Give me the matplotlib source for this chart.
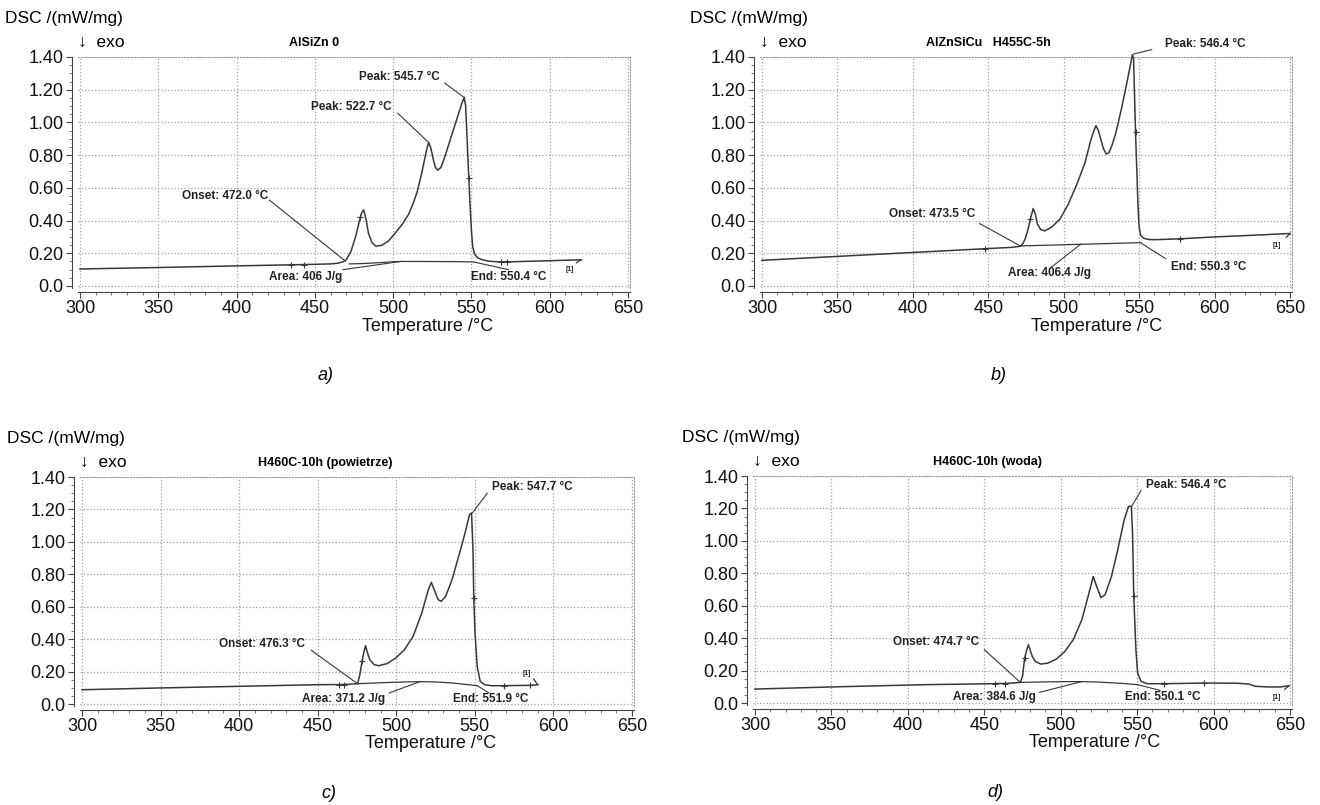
import matplotlib
matplotlib.use("Agg")
import matplotlib.pyplot as plt
from matplotlib.ticker import MultipleLocator, FixedLocator, FixedFormatter

plt.rcParams["font.family"] = ["Liberation Sans", "DejaVu Sans"]

W, H = 1320, 805
XMIN, XMAX = 298.5, 651
YMIN, YMAX = -0.01, 1.40

y_ticks = [0.0, 0.2, 0.4, 0.6, 0.8, 1.0, 1.2, 1.4]
y_labels = ["0.0", "0.20", "0.40", "0.60", "0.80", "1.00", "1.20", "1.40"]
x_ticks = [300, 350, 400, 450, 500, 550, 600, 650]

# ---- a) AlSiZn 0
T_a = [300, 350, 400, 443, 460, 465, 468, 470, 473, 476.3, 478.5, 480, 481.2, 482.8,
       484.3, 486.5, 489, 493, 497, 501, 506, 510, 513, 515.5, 518, 520, 521.7, 522.7,
       524, 525.5, 527, 528.5, 530.5, 533, 536, 539, 542, 544, 545.4, 546.3, 547, 548,
       549, 550, 550.8, 552, 554, 557, 561, 566, 575, 590, 605, 620]
dsc_a = [0.104, 0.113, 0.123, 0.131, 0.135, 0.14, 0.148, 0.16, 0.21, 0.31, 0.40, 0.45,
         0.465, 0.40, 0.32, 0.265, 0.243, 0.25, 0.275, 0.32, 0.38, 0.44, 0.51, 0.58, 0.68,
         0.77, 0.845, 0.877, 0.845, 0.78, 0.725, 0.708, 0.725, 0.79, 0.88, 0.97, 1.06,
         1.12, 1.153, 1.10, 0.95, 0.73, 0.52, 0.34, 0.24, 0.195, 0.172, 0.16, 0.152,
         0.148, 0.148, 0.152, 0.156, 0.16]
base_T_a = [472, 480, 490, 500, 505, 520, 540, 551]
base_a = [0.135, 0.137, 0.142, 0.148, 0.150, 0.150, 0.149, 0.147]
marks_T_a = [435, 443, 479, 548.6, 569, 573]
marks_a = [0.130, 0.131, 0.42, 0.66, 0.148, 0.148]
hook_T_a = [620, 617]
hook_a = [0.16, 0.142]
notes_a = [
    ("Peak: 545.7 °C", 504, 1.28, [533, 545.3], [1.24, 1.153]),
    ("Peak: 522.7 °C", 473, 1.093, [503, 522.7], [1.056, 0.877]),
    ("Onset: 472.0 °C", 392.8, 0.552, [421, 469.4], [0.525, 0.153]),
    ("Area: 406 J/g", 444.4, 0.055, [468, 505.6], [0.10, 0.151]),
    ("End: 550.4 °C", 573.9, 0.055, [573.6, 551.4], [0.10, 0.147]),
]

# ---- b) AlZnSiCu H455C-5h
T_b = [300, 350, 400, 450, 465, 470, 471.6, 473, 474.5, 476.2, 477.9, 479.8, 481.2,
       482.5, 484.7, 487.5, 492, 497.6, 503, 508.5, 514, 518, 520, 521.4, 523, 524.5,
       526.3, 528.2, 530, 532, 534.5, 538.6, 542.7, 545.5, 546.3, 547, 547.6, 548.4,
       549.2, 550, 551, 553, 556, 560, 570, 580, 600, 625, 650]
dsc_b = [0.157, 0.181, 0.205, 0.229, 0.236, 0.241, 0.245, 0.26, 0.29, 0.34, 0.41, 0.474,
         0.44, 0.38, 0.345, 0.337, 0.36, 0.41, 0.50, 0.617, 0.75, 0.893, 0.95, 0.98,
         0.95, 0.90, 0.84, 0.807, 0.815, 0.86, 0.934, 1.097, 1.28, 1.414, 1.39, 1.15,
         0.94, 0.72, 0.50, 0.36, 0.31, 0.292, 0.285, 0.283, 0.286, 0.29, 0.30, 0.31, 0.321]
base_T_b = [471.6, 551]
base_b = [0.245, 0.265]
marks_T_b = [447.5, 477.9, 547.6, 577]
marks_b = [0.229, 0.41, 0.94, 0.29]
hook_T_b = [650, 647.5]
hook_b = [0.321, 0.297]
notes_b = [
    ("Peak: 546.4 °C", 593.7, 1.48, [558.3, 546.3], [1.445, 1.418]),
    ("Onset: 473.5 °C", 412.8, 0.443, [444.2, 471.6], [0.382, 0.243]),
    ("Area: 406.4 J/g", 490.8, 0.08, [492, 511.3], [0.116, 0.256]),
    ("End: 550.3 °C", 596.2, 0.116, [567.4, 551], [0.168, 0.264]),
]

# ---- c) H460C-10h (powietrze)
T_c = [300, 350, 400, 450, 464, 470, 475.4, 477, 478.2, 479.3, 480.4, 481.7, 483.1,
       485.9, 488.6, 494.2, 499.7, 505.2, 510.7, 516.2, 520.4, 522.3, 524.5, 526.7,
       528.6, 531.4, 535.5, 539.7, 543.8, 546.6, 547.9, 548.8, 549.3, 550.1, 551.5,
       553.4, 556.2, 560.3, 568.6, 585.2, 590]
dsc_c = [0.088, 0.099, 0.109, 0.119, 0.12, 0.122, 0.125, 0.19, 0.263, 0.315, 0.36, 0.315,
         0.273, 0.243, 0.236, 0.249, 0.284, 0.335, 0.417, 0.561, 0.705, 0.75, 0.695,
         0.643, 0.633, 0.664, 0.767, 0.911, 1.055, 1.168, 1.178, 0.952, 0.654, 0.438,
         0.232, 0.14, 0.119, 0.113, 0.113, 0.115, 0.119]
base_T_c = [475.4, 490, 505, 515, 525, 535, 545, 551.5]
base_c = [0.125, 0.131, 0.136, 0.138, 0.136, 0.13, 0.12, 0.113]
marks_T_c = [463.8, 466.5, 478.2, 549.3, 568.6, 585.2]
marks_c = [0.119, 0.119, 0.263, 0.654, 0.113, 0.115]
hook_T_c = [590, 587.4]
hook_c = [0.119, 0.154]
notes_c = [
    ("Peak: 547.7 °C", 586.3, 1.338, [557.9, 548.4], [1.30, 1.178]),
    ("Onset: 476.3 °C", 414.7, 0.372, [445.9, 475.4], [0.331, 0.125]),
    ("Area: 371.2 J/g", 466.6, 0.031, [495.5, 514.8], [0.068, 0.137]),
    ("End: 551.9 °C", 560.3, 0.031, [559, 551.5], [0.068, 0.113]),
]

# ---- d) H460C-10h (woda)
T_d = [300, 350, 411, 455, 465, 473.6, 475, 476.4, 477.8, 478.9, 480, 481.4, 483.3,
       486.9, 491.6, 497.2, 502.7, 508.2, 513.8, 517.9, 521.3, 523.5, 526.3, 529,
       533.2, 537.3, 541.5, 544.3, 546.2, 547, 547.8, 549.2, 550.3, 552.6, 556.7,
       567.8, 594, 615, 623, 627.3, 635.6, 644, 649.5]
dsc_d = [0.086, 0.099, 0.113, 0.119, 0.121, 0.127, 0.164, 0.277, 0.328, 0.359, 0.328,
         0.287, 0.257, 0.24, 0.246, 0.271, 0.318, 0.39, 0.513, 0.657, 0.78, 0.719, 0.65,
         0.667, 0.78, 0.944, 1.129, 1.211, 1.215, 1.047, 0.657, 0.328, 0.185, 0.133,
         0.119, 0.119, 0.123, 0.122, 0.117, 0.103, 0.099, 0.099, 0.107]
base_T_d = [473.6, 490, 505, 514, 525, 540, 550.3]
base_d = [0.127, 0.130, 0.132, 0.132, 0.129, 0.121, 0.113]
marks_T_d = [457, 463.5, 476.4, 547.8, 567.8, 594]
marks_d = [0.119, 0.119, 0.277, 0.657, 0.119, 0.123]
hook_T_d = [649.5, 646.5]
hook_d = [0.107, 0.085]
notes_d = [
    ("Peak: 546.4 °C", 582.2, 1.345, [552.6, 546.5], [1.31, 1.215]),
    ("Onset: 474.7 °C", 418.5, 0.374, [450.1, 473.6], [0.328, 0.127]),
    ("Area: 384.6 J/g", 456.5, 0.035, [486.1, 513.8], [0.066, 0.132]),
    ("End: 550.1 °C", 566.7, 0.035, [565, 550.3], [0.078, 0.113]),
]

panels = [
    dict(T=T_a, y=dsc_a, bT=base_T_a, b=base_a, mT=marks_T_a, m=marks_a, hT=hook_T_a,
         h=hook_a, notes=notes_a, title="AlSiZn 0", tx=449.4, tag=(613, 0.10),
         cap="a)", px=(80, 628, 57, 286)),
    dict(T=T_b, y=dsc_b, bT=base_T_b, b=base_b, mT=marks_T_b, m=marks_b, hT=hook_T_b,
         h=hook_b, notes=notes_b, title="AlZnSiCu   H455C-5h", tx=449.9, tag=(641.3, 0.245),
         cap="b)", px=(762, 1290, 57, 286)),
    dict(T=T_c, y=dsc_c, bT=base_T_c, b=base_c, mT=marks_T_c, m=marks_c, hT=hook_T_c,
         h=hook_c, notes=notes_c, title="H460C-10h (powietrze)", tx=455, tag=(583, 0.191),
         cap="c)", px=(82, 632, 477, 704)),
    dict(T=T_d, y=dsc_d, bT=base_T_d, b=base_d, mT=marks_T_d, m=marks_d, hT=hook_T_d,
         h=hook_d, notes=notes_d, title="H460C-10h (woda)", tx=451.8, tag=(641.2, 0.035),
         cap="d)", px=(755, 1290, 476, 703)),
]

LC = "#383838"
fig = plt.figure(figsize=(W / 100, H / 100), dpi=100)

for p in panels:
    # axes frame from the pixel spots of 300 / 650 °C and 1.40 / 0.0
    x300, x650, y140, y0 = p["px"]
    sx = (x650 - x300) / 350
    sy = (y0 - y140) / 1.4
    left = x300 - (300 - XMIN) * sx
    right = x650 + (XMAX - 650) * sx
    top = y140 - (YMAX - 1.4) * sy
    bottom = y0 - YMIN * sy
    ax = fig.add_axes([left / W, 1 - bottom / H, (right - left) / W, (bottom - top) / H])

    ax.plot(p["T"], p["y"], color=LC, lw=1.1, clip_on=False, zorder=3)
    ax.plot(p["bT"], p["b"], color=LC, lw=0.9, zorder=3)
    ax.plot(p["hT"], p["h"], color=LC, lw=0.9, clip_on=False, zorder=3)
    ax.plot(p["mT"], p["m"], ls="none", marker="+", ms=5, mew=0.8, color=LC, zorder=4)
    for txt, lx, ly, sxs, sys_ in p["notes"]:
        ax.plot(sxs, sys_, color=LC, lw=0.8, clip_on=False, zorder=3)
        ax.text(lx, ly, txt, ha="center", va="center", fontsize=8.5, fontweight="bold",
                color="#222222", clip_on=False)
    ax.text(p["tag"][0], p["tag"][1], "[1]", fontsize=5, fontweight="bold",
            ha="center", va="center", color="#222222")

    ax.set_xlim(XMIN, XMAX)
    ax.set_ylim(YMIN, YMAX)
    ax.xaxis.set_major_locator(FixedLocator(x_ticks))
    ax.xaxis.set_minor_locator(MultipleLocator(10))
    ax.yaxis.set_major_locator(FixedLocator(y_ticks))
    ax.yaxis.set_major_formatter(FixedFormatter(y_labels))
    ax.yaxis.set_minor_locator(MultipleLocator(0.05))
    ax.tick_params(axis="both", which="major", labelsize=13, length=4, width=0.8,
                   color="#444444", labelcolor="#111111", pad=2)
    ax.tick_params(axis="both", which="minor", length=2, width=0.6, color="#666666")
    ax.grid(True, which="major", color="#a0a0a0", ls=":", lw=0.9)
    for s in ("top", "right"):
        ax.spines[s].set_linestyle(":")
        ax.spines[s].set_color("#a0a0a0")
    ax.spines["left"].set_position(("outward", 4))
    ax.spines["bottom"].set_position(("outward", 3))
    for s in ("left", "bottom"):
        ax.spines[s].set_color("#444444")
        ax.spines[s].set_linewidth(0.8)

    ax.set_xlabel("Temperature /°C", fontsize=13, color="#111111")
    ax.xaxis.set_label_coords((522 - XMIN) / (XMAX - XMIN), -0.13)

    ax.text(p["tx"], 1.485, p["title"], ha="center", va="center", fontsize=9,
            fontweight="bold")
    ax.text(299, 1.49, "↓  exo", ha="left", va="center", fontsize=12.5)
    ax.text(252, 1.635, "DSC /(mW/mg)", ha="left", va="center", fontsize=12.5)
    ax.text(457, -0.55, p["cap"], ha="center", va="center", fontsize=13, style="italic")

fig.savefig("out.png", dpi=100)
